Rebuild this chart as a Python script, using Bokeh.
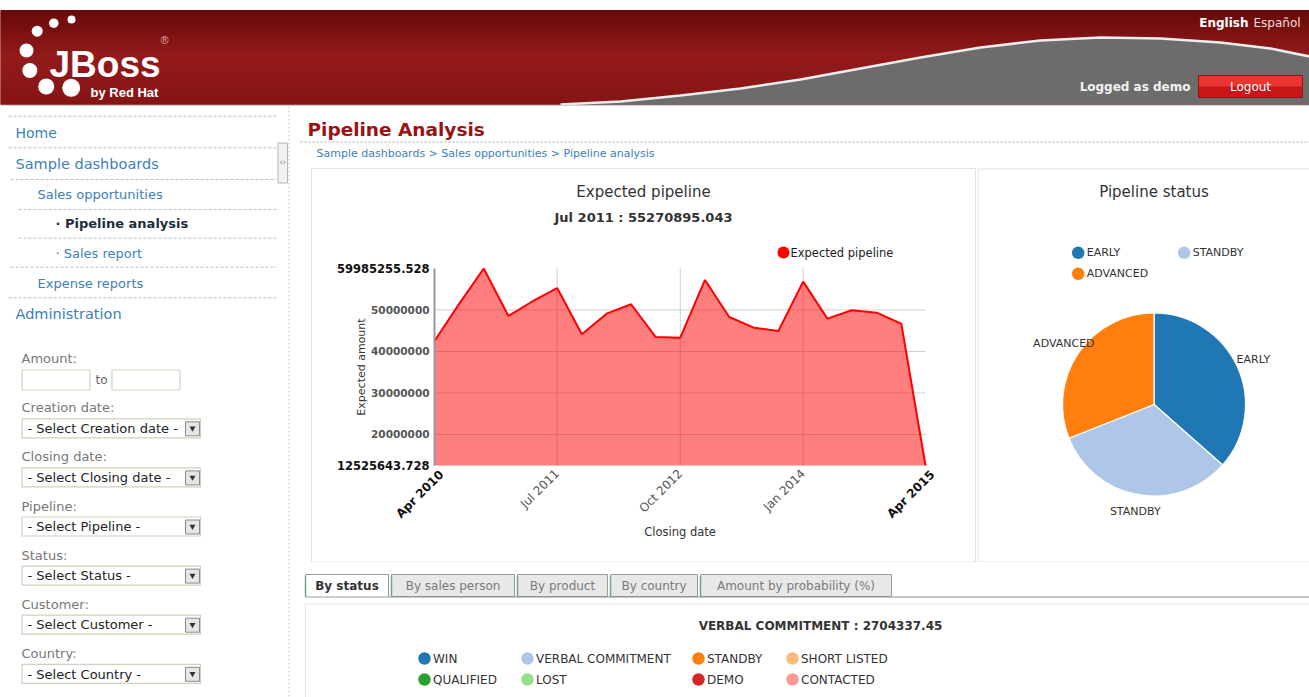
import math
import numpy as np
import pandas as pd
from bokeh.plotting import figure
from bokeh.layouts import column, row
from bokeh.models import Range1d, FixedTicker, NumeralTickFormatter, DatetimeTickFormatter
from bokeh.core.properties import value
from bokeh.embed import file_html
from bokeh.resources import INLINE

FONT = "DejaVu Sans"

# ---------------- data ----------------
pipeline_dates = ["2010-04-01", "2010-07-01", "2010-10-01", "2011-01-01", "2011-04-01",
                  "2011-07-01", "2011-10-01", "2012-01-01", "2012-04-01", "2012-07-01",
                  "2012-10-01", "2013-01-01", "2013-04-01", "2013-07-01", "2013-10-01",
                  "2014-01-01", "2014-04-01", "2014-07-01", "2014-10-01", "2015-01-01",
                  "2015-04-01"]
pipeline_values = [42530000, 51400000, 59985255.528, 48550000, 52100000,
                   55270895.043, 44140000, 49100000, 51370000, 43490000,
                   43330000, 57230000, 48310000, 45730000, 44940000,
                   56820000, 47900000, 49930000, 49350000, 46700000,
                   12525643.728]
y_min = 12525643.728
y_max = 59985255.528
y_ticks = [20000000, 30000000, 40000000, 50000000]
x_tick_dates = ["2011-07-01", "2012-10-01", "2014-01-01"]
chart_title = "Expected pipeline"
series_name = "Expected pipeline"
highlight_index = 5

status_labels = ["EARLY", "STANDBY", "ADVANCED"]
status_values = [36.5, 32.5, 31.0]
status_colors = ["#1f77b4", "#aec7e8", "#ff7f0e"]

bottom_title = "VERBAL COMMITMENT : 2704337.45"
bottom_labels = ["WIN", "VERBAL COMMITMENT", "STANDBY", "SHORT LISTED",
                 "QUALIFIED", "LOST", "DEMO", "CONTACTED"]
bottom_colors = ["#1f77b4", "#aec7e8", "#ff7f0e", "#ffbb78",
                 "#2ca02c", "#98df8a", "#d62728", "#ff9896"]

tab_labels = ["By status", "By sales person", "By product", "By country",
              "Amount by probability (%)"]

menu_items = ["Home", "Sample dashboards", "Sales opportunities", "· Pipeline analysis",
              "· Sales report", "Expense reports", "Administration"]
filter_labels = ["Creation date:", "Closing date:", "Pipeline:", "Status:", "Customer:", "Country:"]
filter_texts = ["- Select Creation date -", "- Select Closing date -", "- Select Pipeline -",
                "- Select Status -", "- Select Customer -", "- Select Country -"]
breadcrumb = "Sample dashboards > Sales opportunities > Pipeline analysis"


# ---------------- helpers ----------------
def deco(width, height, x0, x1, y_top, y_bottom):
    p = figure(width=width, height=height, x_range=Range1d(x0, x1),
               y_range=Range1d(y_bottom, y_top), output_backend="svg",
               toolbar_location=None, tools="", x_axis_location=None, y_axis_location=None,
               min_border=0, min_border_left=0, min_border_right=0,
               min_border_top=0, min_border_bottom=0)
    p.outline_line_color = None
    p.grid.visible = False
    p.background_fill_color = "white"
    p.border_fill_color = "white"
    return p


def txt(p, x, y, s, size, color, bold=False, align="left", font=FONT, baseline="middle", angle=0):
    p.text(x=[x], y=[y], text=[s], text_font=value(font), text_font_size=f"{size}px",
           text_color=color, text_font_style="bold" if bold else "normal",
           text_align=align, text_baseline=baseline, angle=angle)


def mix(c0, c1, t):
    return "#%02x%02x%02x" % tuple(int(round(a + (b - a) * t)) for a, b in zip(c0, c1))


W, H = 1309, 697

# ---------------- header ----------------
hdr = deco(W, 106, 0, W, 0, 106)
band_edges = np.linspace(10, 104, 48)
band_cols = []
for i in range(len(band_edges) - 1):
    t = i / (len(band_edges) - 2)
    if t < 0.5:
        band_cols.append(mix((104, 9, 9), (148, 26, 26), t / 0.5))
    else:
        band_cols.append(mix((148, 26, 26), (134, 20, 20), (t - 0.5) / 0.5))
hdr.quad(left=0, right=W, top=band_edges[:-1], bottom=band_edges[1:],
         fill_color=band_cols, line_color=band_cols, line_width=1)
# grey swoosh
cx = [560, 620, 680, 740, 800, 860, 920, 980, 1040, 1100, 1160, 1220, 1270, 1309]
cy = [104, 101, 95, 88, 79, 68, 57, 47, 40, 37, 38, 42, 48, 56]
hdr.patch(x=cx + [W, 560], y=cy + [104, 104], fill_color="#6c6c6c", line_color=None)
hdr.line(x=cx, y=cy, line_color="#eeeeee", line_width=2.5)
hdr.line(x=[0, W], y=[105, 105], line_color="#d0d0d0", line_width=1.5)
# logo
hdr.scatter(x=[71, 53.3, 36.7, 26, 29.3, 45.7, 70.7], y=[19, 22.7, 30.7, 50, 70, 86, 87.3],
            size=[8, 9.5, 11, 14, 15, 16, 18], fill_color="white", line_color=None)
txt(hdr, 49, 64, "JBoss", 37, "white", bold=True, font="Liberation Sans", baseline="alphabetic")
txt(hdr, 160, 39, "®", 11, "#d9b0b0", font="Liberation Sans")
txt(hdr, 90, 92, "by Red Hat", 13, "white", bold=True, font="Liberation Sans", baseline="alphabetic")
# top right
txt(hdr, 1248, 22, "English", 12, "white", bold=True, align="right")
txt(hdr, 1253, 22, "Español", 12, "#f0dede")
txt(hdr, 1190, 86, "Logged as demo", 12, "#f2f2f2", bold=True, align="right")
hdr.quad(left=1198, right=1302, top=75, bottom=86, fill_color="#ec3431", line_color=None)
hdr.quad(left=1198, right=1302, top=86, bottom=97, fill_color="#c91616", line_color=None)
hdr.quad(left=1198, right=1302, top=75, bottom=97, fill_color=None, line_color="#9e1010", line_width=1)
txt(hdr, 1250, 86.5, "Logout", 12, "white", align="center")

# ---------------- sidebar ----------------
sb = deco(290, H - 106, 0, 290, 106, H)
dash_y = [115.7, 147.3, 179, 209, 237.7, 266.7, 297.3]
dash_x0 = [8, 8, 10, 18, 18, 10, 8]
sb.segment(x0=dash_x0, y0=dash_y, x1=[276] * 7, y1=dash_y, line_color="#bdbdbd",
           line_dash="3 2", line_width=1)
menu_x = [15, 15, 37, 55, 55, 37, 15]
menu_y = [132.3, 163.3, 194, 223.3, 252.7, 282.7, 313.3]
menu_size = [14, 14.5, 13, 13, 13, 13, 14.5]
for s, x, y, fs in zip(menu_items, menu_x, menu_y, menu_size):
    bold = s.startswith("· Pipeline")
    txt(sb, x, y, s, fs, "#1e2d3d" if bold else "#3d7fb6", bold=bold)
sb.segment(x0=[288.5], y0=[106], x1=[288.5], y1=[H], line_color="#c4c4c4",
           line_dash="2 2", line_width=1)
sb.quad(left=277.5, right=287, top=142.5, bottom=182.5, fill_color="#f2f2f2", line_color="#b5b5b5")
txt(sb, 282.3, 162, "‹›", 8, "#777777", align="center")
# filters
txt(sb, 21, 358, "Amount:", 13, "#777777")
sb.quad(left=[21.5, 111.5], right=[89.5, 179.5], top=369.5, bottom=389.5,
        fill_color="white", line_color="#d6d3c2", line_width=1.2)
txt(sb, 95, 379.5, "to", 12, "#666666")
for i, (lab, stxt) in enumerate(zip(filter_labels, filter_texts)):
    ly = 407.3 + i * 49.1
    by = ly + 11
    txt(sb, 21, ly, lab, 13, "#777777")
    sb.quad(left=21.5, right=200, top=by, bottom=by + 19, fill_color="white",
            line_color="#d2cfbe", line_width=1.2)
    txt(sb, 27, by + 9.7, stxt, 13, "#222222")
    sb.quad(left=185, right=199, top=by + 3, bottom=by + 17, fill_color="#e6e6e6",
            line_color="#8a8a8a", line_width=1)
    sb.scatter(x=[192], y=[by + 9.5], marker="inverted_triangle", size=6,
               fill_color="#333333", line_color=None)

# ---------------- title strip ----------------
ts = deco(W - 290, 60, 290, W, 106, 166)
txt(ts, 307, 128.5, "Pipeline Analysis", 18.5, "#9b1212", bold=True)
ts.segment(x0=[300], y0=[141.5], x1=[W], y1=[141.5], line_color="#a8a8a8",
           line_dash="2 2", line_width=1)
txt(ts, 316, 152.5, breadcrumb, 11, "#3d7fb6")

# ---------------- area chart ----------------
dates = pd.to_datetime(pipeline_dates)
epoch = pd.Timestamp("1970-01-01")


def ms(d):
    return (pd.Timestamp(d) - epoch).total_seconds() * 1000.0


x_start, x_end = ms(dates[0]), ms(dates[-1])
A_L, A_R, A_T, A_B = 290, 976, 166, 562          # figure extent on page
F_L, F_R, F_MAX, F_B = 434, 925, 268, 465        # plotting area on page
kx = (x_end - x_start) / (F_R - F_L)
ky = (y_max - y_min) / (F_B - F_MAX)


def AXp(X):
    return x_start + (X - F_L) * kx


def AYp(Y):
    return y_min + (F_B - Y) * ky


ap = figure(width=A_R - A_L, height=A_B - A_T, x_axis_type="datetime",
            x_range=Range1d(AXp(A_L), AXp(A_R)), y_range=Range1d(AYp(A_B), AYp(A_T)),
            output_backend="svg", toolbar_location=None, tools="",
            min_border=0, min_border_left=0, min_border_right=0,
            min_border_top=0, min_border_bottom=0)
ap.outline_line_color = None
ap.background_fill_color = "white"
ap.border_fill_color = "white"
ap.grid.visible = False

# panel border
ap.quad(left=AXp(311), right=AXp(975), top=AYp(168), bottom=AYp(561.5),
        fill_color=None, line_color="#e2e2e2", line_width=1, level="underlay")

xs = [ms(d) for d in dates]
xt = [ms(d) for d in x_tick_dates]
# grid lines, limited to the plotting area
ap.segment(x0=xt, y0=[y_min] * len(xt), x1=xt, y1=[y_max] * len(xt),
           line_color="#cfcfcf", line_width=1, level="underlay")
ap.segment(x0=[x_start] * len(y_ticks), y0=y_ticks, x1=[x_end] * len(y_ticks), y1=y_ticks,
           line_color="#cfcfcf", line_width=1, level="underlay")

ap.varea(x=xs, y1=[y_min] * len(xs), y2=pipeline_values, fill_color="#ff0000", fill_alpha=0.5)
ap.line(x=xs, y=pipeline_values, line_color="#ff0000", line_width=2)

ya = ap.yaxis[0]
ya.fixed_location = x_start
ya.ticker = FixedTicker(ticks=y_ticks)
ya.formatter = NumeralTickFormatter(format="0")
ya.bounds = (y_min, y_max)
ya.axis_line_color = "#9a9a9a"
ya.axis_line_width = 2
ya.major_tick_line_color = None
ya.minor_tick_line_color = None
ya.major_tick_out = 0
ya.major_tick_in = 0
ya.major_label_standoff = 5
ya.major_label_text_font = FONT
ya.major_label_text_font_size = "10.5px"
ya.major_label_text_font_style = "bold"
ya.major_label_text_color = "#555555"
ya.axis_label = "Expected amount"
ya.axis_label_text_font = FONT
ya.axis_label_text_font_size = "11px"
ya.axis_label_text_font_style = "normal"
ya.axis_label_text_color = "#333333"
ya.axis_label_standoff = 0

xa = ap.xaxis[0]
xa.fixed_location = y_min
xa.ticker = FixedTicker(ticks=xt)
xa.formatter = DatetimeTickFormatter(days="%b %Y", months="%b %Y", years="%b %Y")
xa.bounds = (x_start, x_end)
xa.major_label_orientation = math.pi / 4
xa.axis_line_color = None
xa.major_tick_line_color = None
xa.minor_tick_line_color = None
xa.major_tick_out = 0
xa.major_tick_in = 0
xa.major_label_standoff = 6
xa.major_label_text_font = FONT
xa.major_label_text_font_size = "12px"
xa.major_label_text_color = "#555555"
xa.axis_label = "Closing date"
xa.axis_label_text_font = FONT
xa.axis_label_text_font_size = "11.5px"
xa.axis_label_text_font_style = "normal"
xa.axis_label_text_color = "#333333"
xa.axis_label_standoff = 2

# bold end labels of both axes
ap.text(x=[AXp(F_L - 5)] * 2, y=[y_min, y_max], text=["%.3f" % y_min, "%.3f" % y_max],
        text_font=value(FONT), text_font_size="11.5px", text_font_style="bold",
        text_color="#111111", text_align="right", text_baseline="middle")
ap.text(x=[AXp(F_L + 7), AXp(F_R + 7)], y=[AYp(F_B + 7)] * 2,
        text=[dates[0].strftime("%b %Y"), dates[-1].strftime("%b %Y")],
        angle=math.pi / 4, text_font=value(FONT), text_font_size="12px", text_font_style="bold",
        text_color="#111111", text_align="right", text_baseline="middle")
# titles
txt(ap, AXp(643), AYp(191), chart_title, 15, "#333333", align="center")
subtitle = "%s : %s" % (dates[highlight_index].strftime("%b %Y"), pipeline_values[highlight_index])
txt(ap, AXp(643), AYp(217), subtitle, 13, "#333333", bold=True, align="center")
# legend
ap.scatter(x=[AXp(783)], y=[AYp(252)], size=12, fill_color="#ff0000", line_color=None)
txt(ap, AXp(790), AYp(252), series_name, 11.5, "#222222")

# ---------------- pie ----------------
CX, CY = 1153.5, 404
pie = deco(W - 976, 396, 976 - CX, W - CX, CY - 166, CY - 562)


def PX(X):
    return X - CX


def PY(Y):
    return CY - Y


pie.segment(x0=[PX(977.5), PX(977.5), PX(977.5)], y0=[PY(168), PY(168.5), PY(561.5)],
            x1=[PX(977.5), PX(W), PX(W)], y1=[PY(561.5), PY(168.5), PY(561.5)],
            line_color="#e2e2e2", line_width=1)
shares = np.array(status_values) / sum(status_values)
cum = np.concatenate([[0.0], np.cumsum(shares)])
start = math.pi / 2 - cum[:-1] * 2 * math.pi
end = math.pi / 2 - cum[1:] * 2 * math.pi
pie.wedge(x=0, y=0, radius=91.5, start_angle=start, end_angle=end, direction="clock",
          fill_color=status_colors, line_color="white", line_width=1.2)
mid = (start + end) / 2
pie.text(x=109 * np.cos(mid), y=109 * np.sin(mid), text=status_labels, text_font=value(FONT),
         text_font_size="11px", text_color="#333333", text_align="center", text_baseline="middle")
txt(pie, 0, PY(191.5), "Pipeline status", 15, "#333333", align="center")
leg_cols = [1077.7, 1183.7]
leg_rows = [252.3, 273.3]
lx = [PX(leg_cols[i % 2]) for i in range(len(status_labels))]
ly = [PY(leg_rows[i // 2]) for i in range(len(status_labels))]
pie.scatter(x=lx, y=ly, size=12.5, fill_color=status_colors, line_color=None)
pie.text(x=[v + 8.5 for v in lx], y=ly, text=status_labels, text_font=value(FONT),
         text_font_size="11px", text_color="#333333", text_baseline="middle")

# ---------------- bottom ----------------
bt = deco(W - 290, H - 562, 290, W, 562, H)
tab_edges = [(305, 388), (391, 514), (517, 607), (610, 697), (700, 891)]
for i, (lab, (l, r)) in enumerate(zip(tab_labels, tab_edges)):
    active = i == 0
    bt.quad(left=l, right=r, top=574, bottom=596.5 if active else 596,
            fill_color="white" if active else "#e8e8e8", line_color="#9a9a9a", line_width=1)
    bt.segment(x0=[l], y0=[576], x1=[l], y1=[596], line_color="#6fa58a", line_width=1.5)
    txt(bt, (l + r) / 2, 585.5, lab, 12, "#333333" if active else "#7a7a7a", bold=active, align="center")
bt.segment(x0=[388], y0=[596.5], x1=[W], y1=[596.5], line_color="#8e8e8e", line_width=1)
bt.segment(x0=[305, 305], y0=[603.5, 603.5], x1=[W, 305], y1=[603.5, H],
           line_color="#e6e6e6", line_width=1)
txt(bt, 820, 625, bottom_title, 12, "#333333", bold=True, align="center")
bcols = [424, 527, 698, 792]
brows = [658, 679]
bx = [bcols[i % 4] for i in range(len(bottom_labels))]
by_ = [brows[i // 4] for i in range(len(bottom_labels))]
bt.scatter(x=bx, y=by_, size=12.5, fill_color=bottom_colors, line_color=None)
bt.text(x=[v + 8.5 for v in bx], y=by_, text=bottom_labels, text_font=value(FONT),
        text_font_size="12px", text_color="#333333", text_baseline="middle")

# ---------------- layout ----------------
main = column(ts, row(ap, pie), bt)
page = column(hdr, row(sb, main))

with open("out.html", "w") as f:
    f.write(file_html(page, INLINE))
